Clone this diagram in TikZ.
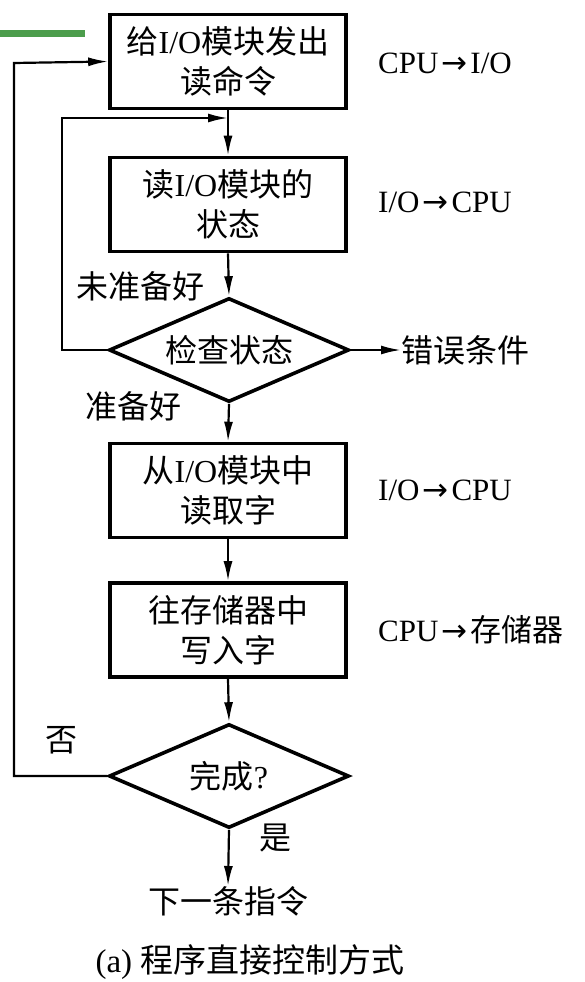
\documentclass[tikz,border=0pt]{standalone}
\usepackage{fontspec}
\setmainfont{Liberation Serif}
\newfontfamily\cjk{Noto Sans CJK SC}
\newfontfamily\sym{DejaVu Sans}
\newcommand{\zh}[1]{{\cjk #1}}
\newcommand{\rarr}{\hspace{3pt}{\sym\char"2192}\hspace{3pt}}
\usetikzlibrary{arrows.meta,shapes.geometric}
\begin{document}
\begin{tikzpicture}[x=1pt,y=-1pt,
  stepbox/.style={draw, line width=3.6pt, minimum width=236pt, minimum height=94pt, inner sep=0pt, align=center, font=\fontsize{32}{40}\selectfont},
  decide/.style={draw, diamond, shape aspect=2.3, line width=3.6pt, minimum width=240pt, minimum height=104pt, inner sep=0pt, font=\fontsize{32}{36}\selectfont},
  arr/.style={-{Latex[length=20pt,width=9pt]}, line width=2.2pt},
  lbl/.style={inner sep=0pt, font=\fontsize{32}{36}\selectfont},
  lat/.style={inner sep=0pt, font=\fontsize{31}{36}\selectfont}]
\useasboundingbox (0,0) rectangle (585,982);
% slide decoration
\fill[green!45!black!70!white] (0,30) rectangle (85,37);

\node[stepbox] (b1) at (228,61.5) {\zh{给}I/O\zh{模块发出}\\\zh{读命令}};
\node[stepbox] (b2) at (228,204.5) {\zh{读}I/O\zh{模块的}\\\zh{状态}};
\node[decide] (d1) at (229,350) {\zh{检查状态}};
\node[stepbox] (b3) at (228,490.5) {\zh{从}I/O\zh{模块中}\\\zh{读取字}};
\node[stepbox] (b4) at (228,630) {\zh{往存储器中}\\\zh{写入字}};
\node[decide] (d2) at (229,776) {\zh{完成}?};
\node[lbl, anchor=north] (nx) at (228,886) {\zh{下一条指令}};
\node[lbl, anchor=west] (err) at (401,350) {\zh{错误条件}};

\node[lat, anchor=west] (t1) at (378,63) {CPU\rarr I/O};
\node[lat, anchor=west] (t2) at (378,202) {I/O\rarr CPU};
\node[lat, anchor=west] (t3) at (378,490) {I/O\rarr CPU};
\node[lat, anchor=west] (t4) at (378,630) {CPU\rarr\zh{存储器}};

\node[lbl] (nr) at (140,286) {\zh{未准备好}};
\node[lbl] (rd) at (133,406) {\zh{准备好}};
\node[lbl] (no) at (61,740) {\zh{否}};
\node[lbl] (yes) at (275,838) {\zh{是}};
\node[lat, font=\fontsize{33}{36}\selectfont] (cap) at (250,962) {(a) \zh{程序直接控制方式}};

\coordinate (j1) at (228,118);
\coordinate (l2) at (62,118);
\coordinate (l1) at (14,63);

\draw[arr] (b1.south) -- (b2.north);
\draw[arr] (b2.south) -- (d1.north);
\draw[arr] (d1.west) -| (l2) -- (j1);
\draw[arr] (d1.east) -- (err.west);
\draw[arr] (d1.south) -- (b3.north);
\draw[arr] (b3.south) -- (b4.north);
\draw[arr] (b4.south) -- (d2.north);
\draw[arr] (d2.west) -| (l1) -- (b1.west);
\draw[arr] (d2.south) -- (nx.north);
\end{tikzpicture}
\end{document}
